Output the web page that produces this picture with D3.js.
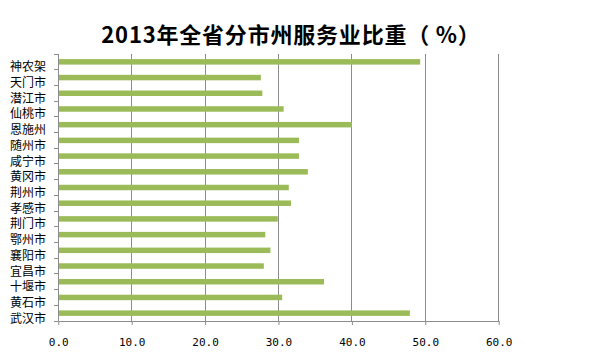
<!DOCTYPE html>
<html><head><meta charset="utf-8">
<script src="https://cdn.jsdelivr.net/npm/d3@7"></script>
<style>body{margin:0;background:#fff}</style>
</head><body>
<script>
const categories = ["神农架","天门市","潜江市","仙桃市","恩施州","随州市","咸宁市","黄冈市","荆州市","孝感市","荆门市","鄂州市","襄阳市","宜昌市","十堰市","黄石市","武汉市"];
const values = [49.3,27.6,27.8,30.7,40.0,32.8,32.8,34.0,31.4,31.7,29.9,28.2,28.9,28.0,36.2,30.5,47.9];
const xTicks = [0,10,20,30,40,50,60];
const title = "2013年全省分市州服务业比重（ %）";

const W=589,H=355;
const svg=d3.select("body").append("svg").attr("width",W).attr("height",H);
const mLeft=58.3,mRight=498.7,mTop=54,mBottom=321;
const x=d3.scaleLinear().domain([0,60]).range([mLeft,mRight]);
const y=d3.scaleBand().domain(categories).range([mTop,mBottom]).paddingInner(0.65).paddingOuter(0.325);

// gridlines
svg.append("g").selectAll("line").data(xTicks.slice(1)).join("line")
  .attr("x1",d=>x(d)).attr("x2",d=>x(d)).attr("y1",mTop).attr("y2",mBottom)
  .attr("stroke","#8c8c8c").attr("stroke-width",1).attr("shape-rendering","crispEdges");

// bars
svg.append("g").selectAll("rect").data(values).join("rect")
  .attr("x",x(0)).attr("y",(d,i)=>y(categories[i]))
  .attr("width",d=>x(d)-x(0)).attr("height",y.bandwidth())
  .attr("fill","#9bbb59");

// bottom axis
const xa=svg.append("g").attr("transform",`translate(0,${mBottom})`)
  .call(d3.axisBottom(x).tickValues(xTicks).tickFormat(d3.format(".1f")).tickSize(4).tickSizeOuter(0));
xa.select(".domain").attr("stroke","#8c8c8c");
xa.selectAll(".tick line").attr("stroke","#8c8c8c");
xa.selectAll("text").attr("font-family","'DejaVu Sans Mono',monospace").attr("font-size","11px").attr("fill","#000").attr("dy","1.6em");

// left axis
const band=y.step();
const ya=svg.append("g");
ya.append("line").attr("x1",mLeft).attr("x2",mLeft).attr("y1",mTop).attr("y2",mBottom).attr("stroke","#8c8c8c").attr("shape-rendering","crispEdges");
const tickYs=d3.range(categories.length+1).map(i=>mTop+i*band);
ya.selectAll("line.t").data(tickYs).join("line").attr("class","t")
  .attr("x1",mLeft-4).attr("x2",mLeft).attr("y1",d=>d).attr("y2",d=>d)
  .attr("stroke","#8c8c8c").attr("shape-rendering","crispEdges");
ya.selectAll("text").data(categories).join("text")
  .attr("x",46).attr("y",d=>y(d)+y.bandwidth()/2+4)
  .attr("text-anchor","end").attr("dominant-baseline","central")
  .attr("font-family","'Noto Sans CJK SC',sans-serif").attr("font-size","12px").attr("fill","#000")
  .text(d=>d);

// title
svg.append("text").attr("x",291).attr("y",33).attr("text-anchor","middle").attr("dominant-baseline","central")
  .attr("font-family","'Noto Sans CJK SC',sans-serif").attr("font-weight","bold").attr("font-size","22px").attr("fill","#000")
  .attr("letter-spacing","0.8px")
  .attr("xml:space","preserve").style("white-space","pre")
  .text(title);
</script>
</body></html>
